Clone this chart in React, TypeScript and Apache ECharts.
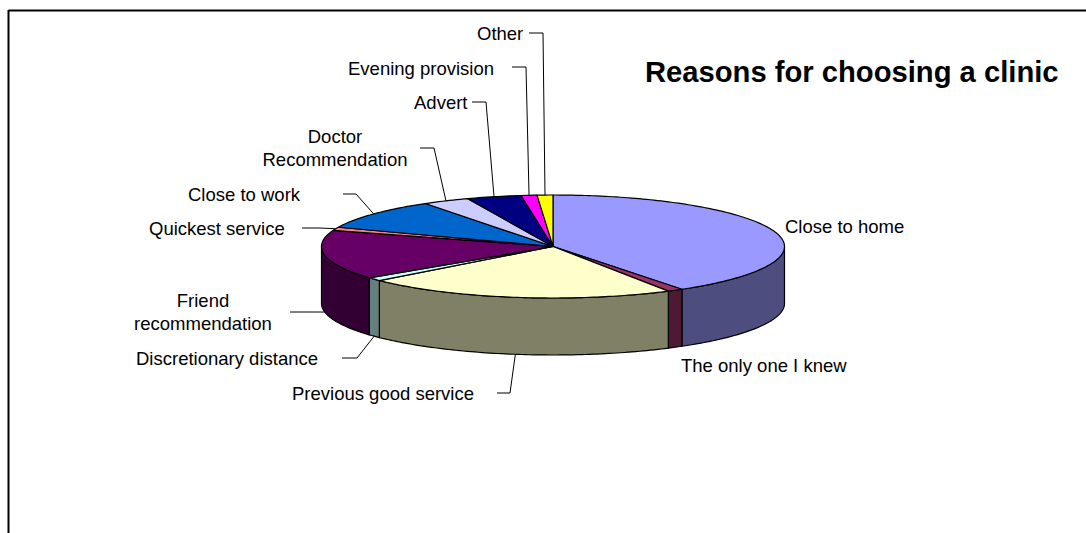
import React, { useEffect, useRef } from "react";
import * as echarts from "echarts";

const categories = [
  "Close to home",
  "The only one I knew",
  "Previous good service",
  "Discretionary distance",
  "Friend\nrecommendation",
  "Quickest service",
  "Close to work",
  "Doctor\nRecommendation",
  "Advert",
  "Evening provision",
  "Other",
];
const values = [40.6, 1.1, 21.8, 1.1, 15.5, 1.0, 9.6, 3.3, 3.8, 1.1, 1.1];
const topColors = [
  "#9999FF", "#993366", "#FFFFCC", "#CCFFFF", "#660066", "#FF8080",
  "#0066CC", "#CCCCFF", "#000080", "#FF00FF", "#FFFF00",
];
const wallColors = [
  "#4D4D80", "#4D1A33", "#808066", "#668080", "#330033", "#804040",
  "#003366", "#666680", "#000040", "#800080", "#808000",
];

const CX = 553;
const CY = 246.5;
const RX = 231.5;
const RY = 51.5;
const DEPTH = 57;
const FONT = '18.5px "Liberation Sans", Arial, sans-serif';

// Label placement per slice: text anchor, alignment and the elbow of its leader.
const labelPlacement: Array<{
  x: number; y: number; align: string; elbow?: number[]; start?: number[];
}> = [
  { x: 785, y: 226, align: "left" },
  { x: 681, y: 365, align: "left" },
  { x: 292, y: 393, align: "left", start: [497, 393], elbow: [510, 393] },
  { x: 136, y: 358, align: "left", start: [342, 358], elbow: [357, 358] },
  { x: 203, y: 312, align: "center", start: [290, 312], elbow: [310, 312] },
  { x: 149, y: 228, align: "left", start: [302, 228], elbow: [320, 228] },
  { x: 188, y: 194, align: "left", start: [343, 194], elbow: [356, 194] },
  { x: 335, y: 148, align: "center", start: [420, 148], elbow: [434, 148] },
  { x: 414, y: 102, align: "left", start: [472, 102], elbow: [486, 102] },
  { x: 348, y: 68, align: "left", start: [512, 67], elbow: [526, 67] },
  { x: 477, y: 33, align: "left", start: [529, 33], elbow: [543, 33] },
];

const total = values.reduce((s, v) => s + v, 0);
const boundaries = values.reduce<number[]>(
  (acc, v) => [...acc, acc[acc.length - 1] + (v / total) * 360],
  [0],
);

// Projects a clockwise-from-12-o'clock angle onto the tilted pie's rim.
const rim = (deg: number, drop = 0): number[] => {
  const r = (deg * Math.PI) / 180;
  return [CX + RX * Math.sin(r), CY - RY * Math.cos(r) + drop];
};

const arcPoints = (from: number, to: number, drop = 0): number[][] => {
  const steps = Math.max(2, Math.ceil(to - from));
  const pts: number[][] = [];
  for (let i = 0; i <= steps; i++) pts.push(rim(from + ((to - from) * i) / steps, drop));
  return pts;
};

const renderWall = (params: any) => {
  const i = params.dataIndex;
  const from = Math.max(boundaries[i], 90);
  const to = Math.min(boundaries[i + 1], 270);
  if (to <= from) return { type: "group", children: [] };
  const points = [...arcPoints(from, to), ...arcPoints(from, to, DEPTH).reverse()];
  return {
    type: "polygon",
    shape: { points },
    style: { fill: wallColors[i], stroke: "#000", lineWidth: 1.2, lineJoin: "round" },
  };
};

const renderTop = (params: any) => {
  const i = params.dataIndex;
  const points = [[CX, CY], ...arcPoints(boundaries[i], boundaries[i + 1])];
  return {
    type: "polygon",
    shape: { points },
    style: { fill: topColors[i], stroke: "#000", lineWidth: 1.2, lineJoin: "round" },
  };
};

const renderLabel = (params: any) => {
  const i = params.dataIndex;
  const place = labelPlacement[i];
  const mid = (boundaries[i] + boundaries[i + 1]) / 2;
  const onWall = mid > 90 && mid < 270;
  const children: any[] = [
    {
      type: "text",
      style: {
        x: place.x,
        y: place.y,
        text: categories[i],
        font: FONT,
        fill: "#000",
        align: place.align,
        verticalAlign: "middle",
        lineHeight: 23,
      },
    },
  ];
  if (place.start && place.elbow) {
    children.push({
      type: "polyline",
      shape: { points: [place.start, place.elbow, rim(mid, onWall ? DEPTH : 0)] },
      style: { fill: "none", stroke: "#000", lineWidth: 1 },
    });
  }
  return { type: "group", children };
};

const seriesData = values.map((v, i) => ({ name: categories[i], value: [v] }));

export default function App() {
  const ref = useRef<HTMLDivElement>(null);
  useEffect(() => {
    const chart = echarts.init(ref.current!, undefined, { renderer: "svg" });
    chart.setOption({
      animation: false,
      backgroundColor: "#fff",
      title: {
        text: "Reasons for choosing a clinic",
        left: 640,
        top: 52,
        textStyle: {
          fontFamily: '"Liberation Sans", Arial, sans-serif',
          fontWeight: "bold",
          fontSize: 29.2,
          color: "#000",
        },
      },
      tooltip: { show: false },
      graphic: [
        { type: "line", shape: { x1: 8.5, y1: 10.5, x2: 1086, y2: 10.5 }, style: { stroke: "#000", lineWidth: 2 } },
        { type: "line", shape: { x1: 8.5, y1: 10, x2: 8.5, y2: 533 }, style: { stroke: "#000", lineWidth: 2 } },
      ],
      series: [
        { type: "custom", coordinateSystem: "none", z: 2, silent: true, data: seriesData, renderItem: renderWall },
        { type: "custom", coordinateSystem: "none", z: 3, silent: true, data: seriesData, renderItem: renderTop },
        { type: "custom", coordinateSystem: "none", z: 4, silent: true, data: seriesData, renderItem: renderLabel },
      ],
    });
    return () => chart.dispose();
  }, []);
  return <div ref={ref} style={{ position: "absolute", left: 0, top: 0, width: 1086, height: 533 }} />;
}
